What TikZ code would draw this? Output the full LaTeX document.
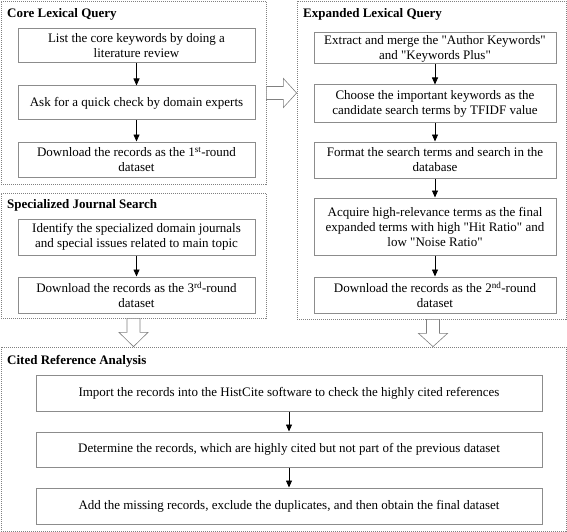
\documentclass[tikz,border=0pt]{standalone}
\usepackage{fontspec}
\setmainfont{Liberation Serif}[Ligatures=TeXOff]
\usetikzlibrary{arrows.meta,calc}
\begin{document}
\begin{tikzpicture}[x=1pt,y=-1pt,
  outer/.style={draw=black!50, line width=0.8pt, dash pattern=on 1pt off 1pt, inner sep=0pt},
  title/.style={anchor=base west, inner sep=0pt, font=\fontsize{13}{15}\selectfont\bfseries},
  stepbox/.style={draw=black!45, line width=1pt, inner sep=0pt, align=center, font=\fontsize{13}{15}\selectfont},
  leftbox/.style={stepbox, minimum width=237pt},
  rightbox/.style={stepbox, minimum width=242pt},
  widebox/.style={stepbox, minimum width=506pt},
  flow/.style={-{Triangle[length=7pt,width=6pt]}, line width=0.8pt, black},
  hollow/.style={draw=black!50, fill=white, line width=0.6pt, line join=miter}
]
\useasboundingbox (0,0) rectangle (567,532);

% outer groups
\node[outer, minimum width=265pt, minimum height=183pt] (core) at (133.5,92.5) {};
\node[outer, minimum width=265pt, minimum height=125pt] (spec) at (133.5,255.5) {};
\node[outer, minimum width=269pt, minimum height=318pt] (exp) at (431.5,160) {};
\node[outer, minimum width=565pt, minimum height=184pt] (cited) at (283.5,439) {};

% titles
\node[title] (tcore) at (7,17.5) {Core Lexical Query};
\node[title] (tspec) at (7,208.5) {Specialized Journal Search};
\node[title] (texp) at (303,17.5) {Expanded Lexical Query};
\node[title] (tcited) at (7,364.5) {Cited Reference Analysis};

% core lexical query
\node[leftbox, minimum height=34pt] (c1) at (136.5,46) {List the core keywords by doing a\\literature review};
\node[leftbox, minimum height=34pt] (c2) at (136.5,103) {Ask for a quick check by domain experts};
\node[leftbox, minimum height=35pt] (c3) at (136.5,159.5) {Download the records as the 1\textsuperscript{st}-round\\dataset};

% specialized journal search
\node[leftbox, minimum height=36pt] (s1) at (136.5,237) {Identify the specialized domain journals\\and special issues related to main topic};
\node[leftbox, minimum height=36pt] (s2) at (136.5,295) {Download the records as the 3\textsuperscript{rd}-round\\dataset};

% expanded lexical query
\node[rightbox, minimum height=31pt] (e1) at (435,48.5) {Extract and merge the "Author Keywords"\\and "Keywords Plus"};
\node[rightbox, minimum height=38pt] (e2) at (435,104) {Choose the important keywords as the\\candidate search terms by TFIDF value};
\node[rightbox, minimum height=36pt] (e3) at (435,160) {Format the search terms and search in the\\database};
\node[rightbox, minimum height=57pt] (e4) at (435,226.5) {Acquire high-relevance terms as the final\\expanded terms with high "Hit Ratio" and\\low "Noise Ratio"};
\node[rightbox, minimum height=36pt] (e5) at (435,295) {Download the records as the 2\textsuperscript{nd}-round\\dataset};

% cited reference analysis
\node[widebox, minimum height=36pt] (r1) at (289,393) {Import the records into the HistCite software to check the highly cited references};
\node[widebox, minimum height=35pt] (r2) at (289,449.5) {Determine the records, which are highly cited but not part of the previous dataset};
\node[widebox, minimum height=36pt] (r3) at (289,506) {Add the missing records, exclude the duplicates, and then obtain the final dataset};

% flow arrows
\draw[flow] (c1) -- (c2);
\draw[flow] (c2) -- (c3);
\draw[flow] (s1) -- (s2);
\draw[flow] (e1) -- (e2);
\draw[flow] (e2) -- (e3);
\draw[flow] (e3) -- (e4);
\draw[flow] (e4) -- (e5);
\draw[flow] (r1) -- (r2);
\draw[flow] (r2) -- (r3);

% hollow block arrows
\coordinate (ymid) at (0,93);
\draw[hollow] ($(core.east|-ymid)+(0,-6.5)$) -- ++(17,0) -- ++(0,-8) -- (exp.west|-ymid)
  -- ($(core.east|-ymid)+(17,14.5)$) -- ++(0,-8) -- ++(-17,0) -- cycle;
\draw[hollow] ($(spec.south)+(-6.5,0)$) -- ++(0,14) -- ++(-8,0) -- (spec.south|-cited.north)
  -- ($(spec.south)+(14.5,14)$) -- ++(-8,0) -- ++(0,-14) -- cycle;
\coordinate (xe) at (433,0);
\draw[hollow] ($(xe|-exp.south)+(-6.5,0)$) -- ++(0,14) -- ++(-8,0) -- (xe|-cited.north)
  -- ($(xe|-exp.south)+(14.5,14)$) -- ++(-8,0) -- ++(0,-14) -- cycle;
\end{tikzpicture}
\end{document}
